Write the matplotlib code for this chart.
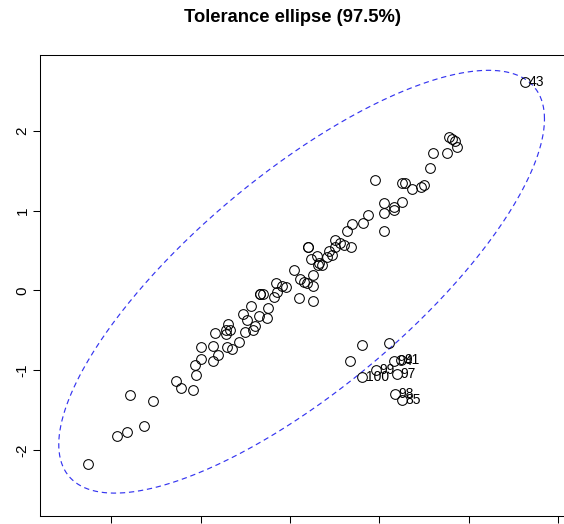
"""Tolerance ellipse (97.5%) around a bivariate sample, outliers flagged by index."""
import numpy as np
import matplotlib
matplotlib.use("Agg")
import matplotlib.pyplot as plt

plt.rcParams["font.family"] = ["Liberation Sans", "DejaVu Sans"]
plt.rcParams["axes.unicode_minus"] = False

# observations inside / near the ellipse
x = [-2.26, -1.93, -1.82, -1.79, -1.63, -1.53, -1.27, -1.22, -1.09, -1.05,
     -1.06, -1.00, -1.00, -0.86, -0.86, -0.81, -0.84, -0.71, -0.65, -0.72,
     -0.69, -0.67, -0.72, -0.57, -0.50, -0.53, -0.48, -0.41, -0.39, -0.44,
     -0.35, -0.26, -0.25, -0.33, -0.33, -0.30, -0.18, -0.14, -0.16, -0.09,
     -0.04, 0.10, 0.05, 0.11, 0.16, 0.19, 0.26, 0.26, 0.26, 0.23,
     0.20, 0.20, 0.30, 0.33, 0.31, 0.36, 0.41, 0.44, 0.47, 0.50,
     0.50, 0.56, 0.60, 0.68, 0.64, 0.69, 0.82, 1.05, 0.87, 1.05,
     1.05, 1.16, 1.16, 1.25, 0.95, 1.25, 1.29, 1.36, 1.46, 1.50,
     1.57, 1.60, 1.76, 1.78, 1.81, 1.84, 1.87, 0.81, 1.11, 0.67]
y = [-2.17, -1.82, -1.77, -1.31, -1.70, -1.39, -1.13, -1.22, -1.25, -1.06,
     -0.94, -0.86, -0.71, -0.88, -0.69, -0.81, -0.53, -0.71, -0.73, -0.55,
     -0.42, -0.49, -0.50, -0.64, -0.52, -0.30, -0.37, -0.50, -0.45, -0.20,
     -0.32, -0.34, -0.22, -0.05, -0.05, -0.04, -0.08, -0.02, 0.09, 0.05,
     0.04, -0.10, 0.26, 0.14, 0.11, 0.09, 0.06, 0.19, -0.13, 0.39,
     0.54, 0.54, 0.43, 0.34, 0.32, 0.32, 0.42, 0.49, 0.45, 0.54,
     0.63, 0.60, 0.57, 0.55, 0.74, 0.83, 0.84, 0.74, 0.95, 0.97,
     1.10, 1.05, 1.01, 1.11, 1.38, 1.35, 1.35, 1.27, 1.30, 1.32,
     1.53, 1.73, 1.73, 1.92, 1.90, 1.87, 1.80, -0.68, -0.66, -0.89]

# flagged observations (robust distance beyond the cutoff)
out_id = ["43", "94", "91", "99", "97", "100", "98", "85"]
out_x = [2.63, 1.16, 1.24, 0.96, 1.20, 0.81, 1.17, 1.25]
out_y = [2.62, -0.89, -0.87, -1.00, -1.05, -1.09, -1.30, -1.37]

# robust location / scatter used for the ellipse
center = [0.13, 0.11]
sd = [1.00, 0.976]
rho = 0.77
level = 0.975

fig = plt.figure(figsize=(5.64, 5.24), dpi=100)
ax = fig.add_axes([40 / 564, 8 / 524, 526 / 564, 461 / 524])

cov = np.array([[sd[0] ** 2, rho * sd[0] * sd[1]],
                [rho * sd[0] * sd[1], sd[1] ** 2]])
r = np.sqrt(-2 * np.log(1 - level))          # chi-square(2) quantile
t = np.linspace(0, 2 * np.pi, 400)
L = np.linalg.cholesky(cov)
ell = np.array(center)[:, None] + r * L @ np.vstack([np.cos(t), np.sin(t)])
ax.plot(ell[0], ell[1], color="#3535f0", lw=0.85, dashes=(4.5, 3.2), zorder=2)

ax.plot(x + out_x, y + out_y, ls="none", marker="o", ms=7, mfc="none",
        mec="black", mew=0.75, zorder=3)
for xi, yi, lab in zip(out_x, out_y, out_id):
    ax.annotate(lab, (xi, yi), xytext=(2.5, 0), textcoords="offset points",
                ha="left", va="center", fontsize=10, zorder=4)

ax.set_xlim(-2.796, 3.087)
ax.set_ylim(-2.828, 2.953)
ax.set_xticks([-2, -1, 0, 1, 2, 3])
ax.set_xticklabels([])        # labels fall below the saved area
ax.set_yticks([-2, -1, 0, 1, 2])
ax.set_yticklabels(["-2", "-1", "0", "1", "2"], rotation=90, va="center")
ax.tick_params(length=5, width=0.75, labelsize=11, pad=2.5, direction="out")
for s in ax.spines.values():
    s.set_linewidth(0.75)

fig.text(292 / 564, 1 - 18 / 524, "Tolerance ellipse (97.5%)", ha="center",
         va="center", fontsize=13.2, fontweight="bold")

fig.savefig("out.png", dpi=100)
